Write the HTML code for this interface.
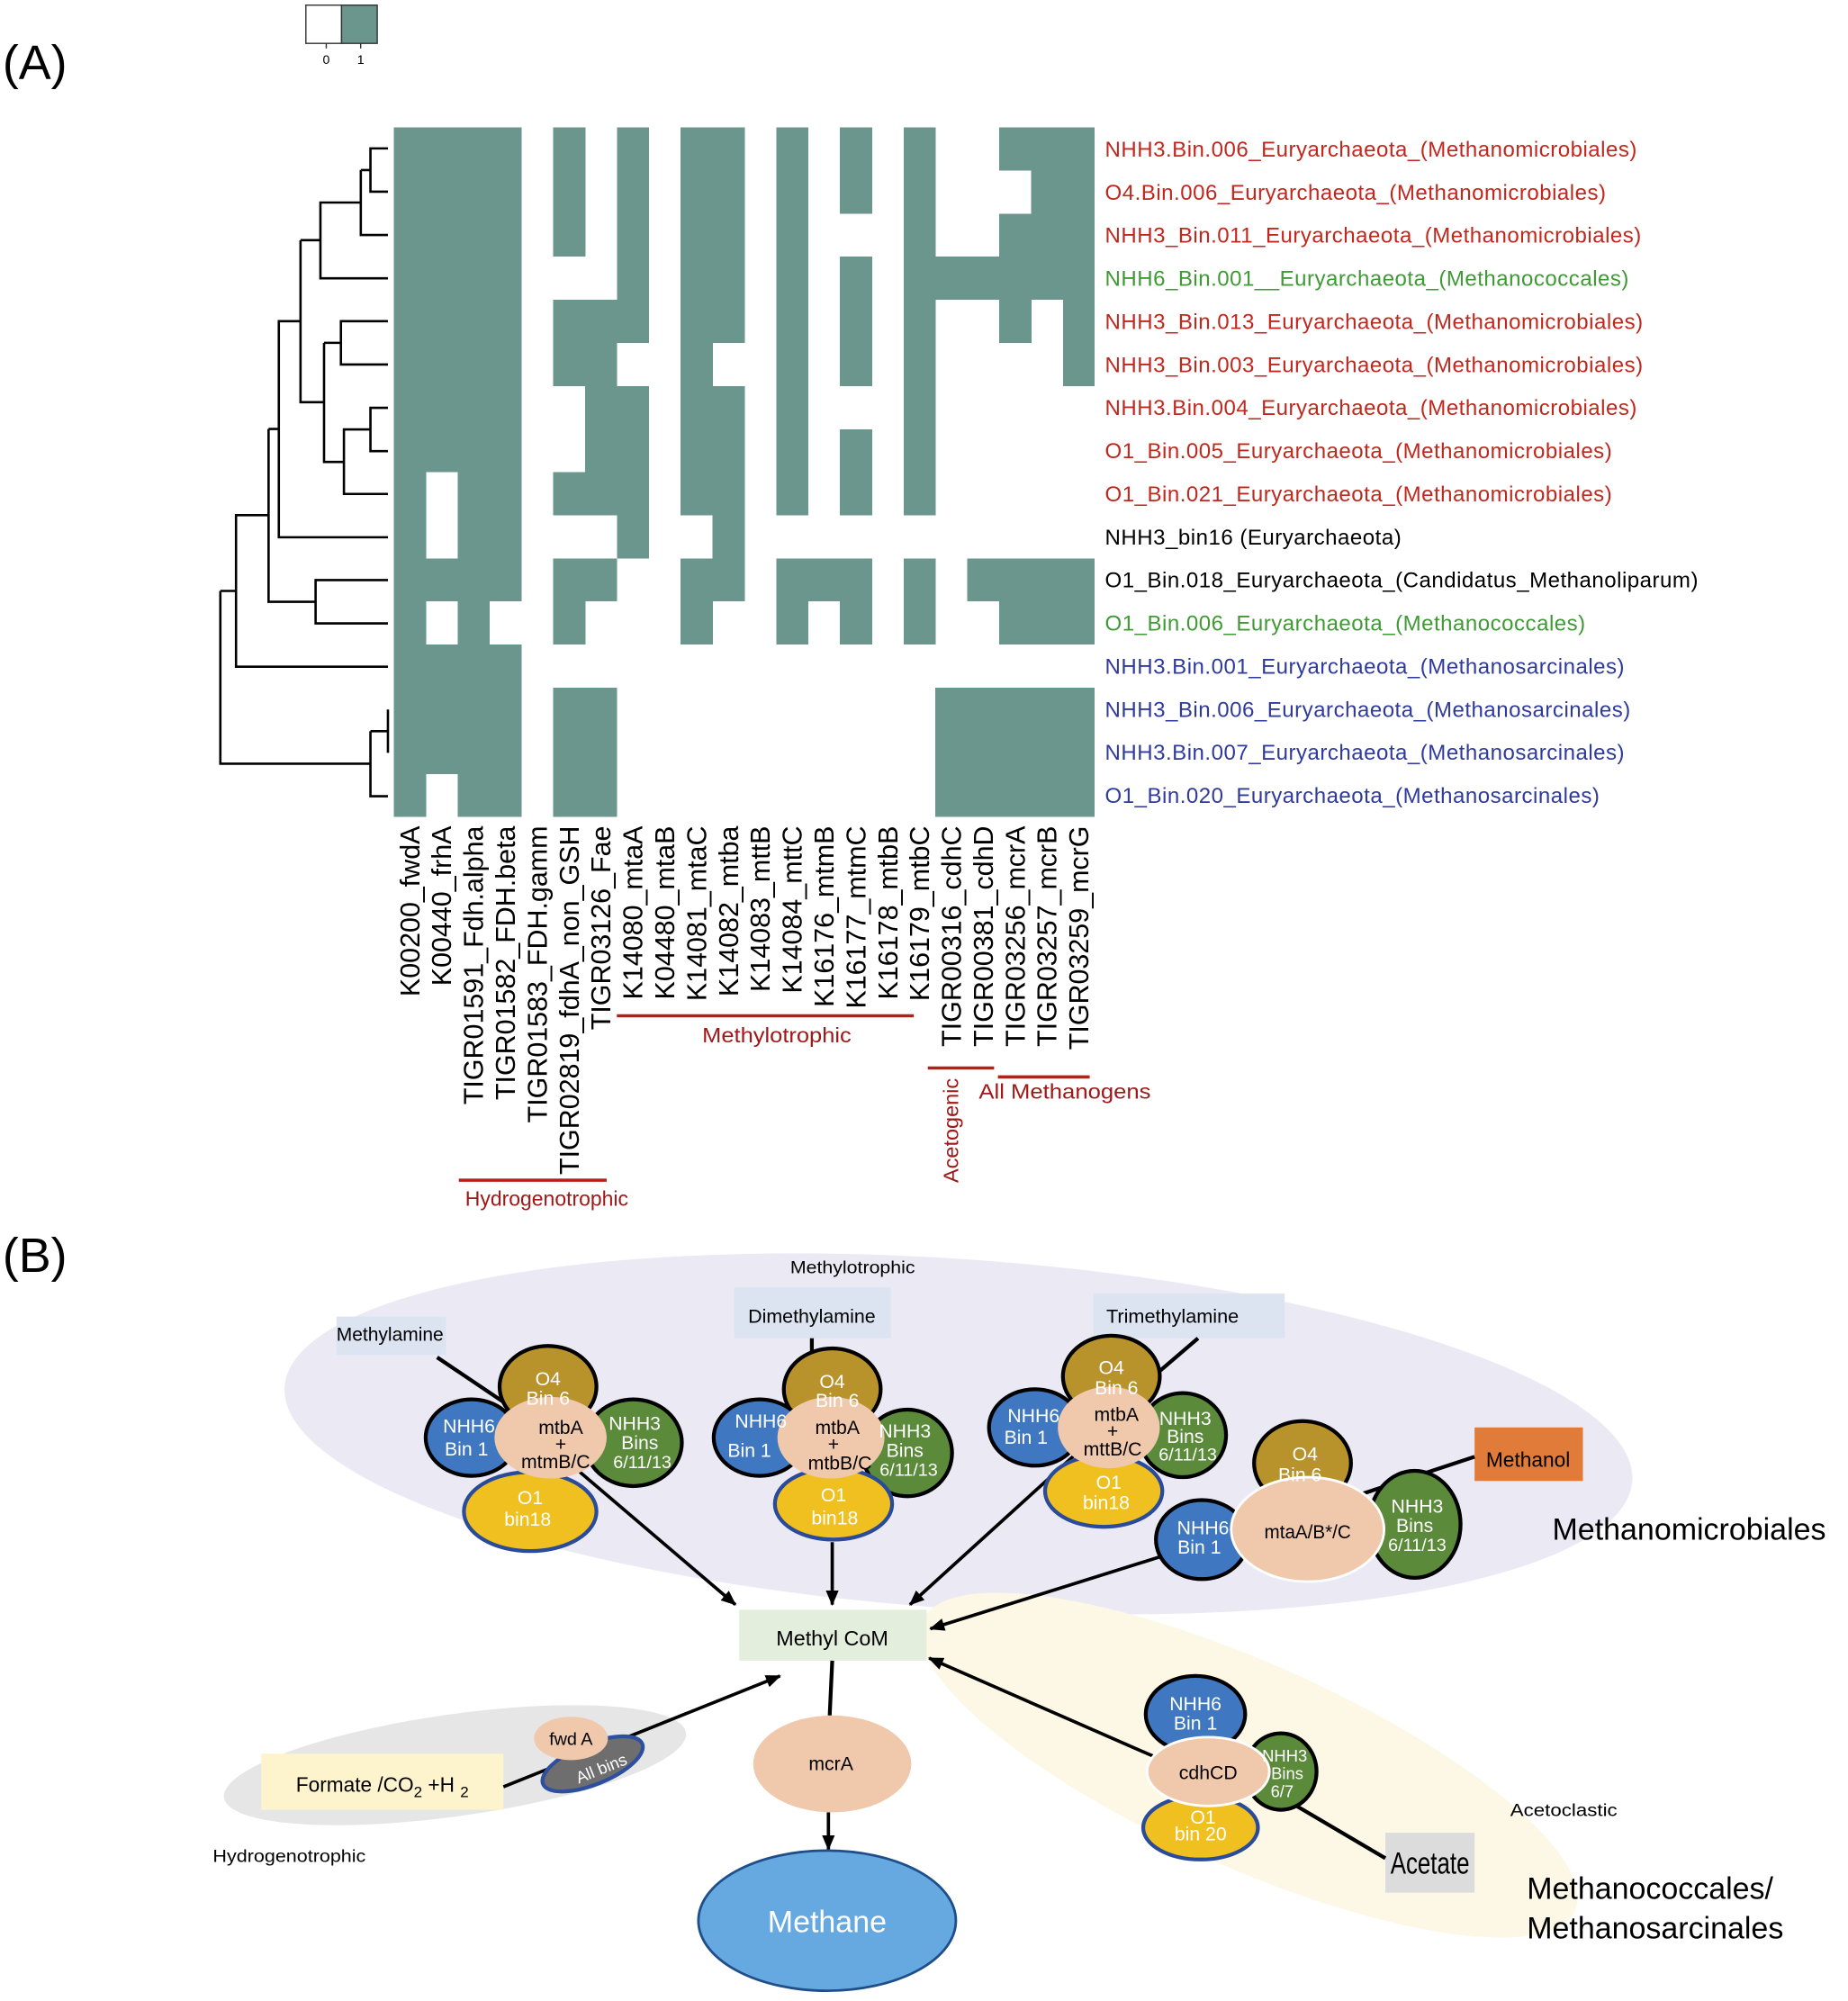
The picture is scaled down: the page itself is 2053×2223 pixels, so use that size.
<!DOCTYPE html>
<html><head><meta charset="utf-8"><style>
html,body{margin:0;padding:0;background:#fff;}
svg{display:block;}
text{font-family:"Liberation Sans",Arial,sans-serif;}
.n{font-family:"Liberation Sans Narrow","Liberation Sans",sans-serif;}
</style></head><body>
<svg width="2053" height="2223" viewBox="0 0 1450 1570" xmlns="http://www.w3.org/2000/svg">
<rect width="1450" height="1570" fill="#fff"/>
<rect x="240" y="4" width="28" height="30" fill="#fff" stroke="#333" stroke-width="1"/>
<rect x="268" y="4" width="28" height="30" fill="#6b968d" stroke="#333" stroke-width="1"/>
<line x1="256" y1="34" x2="256" y2="38" stroke="#333"/><line x1="283" y1="34" x2="283" y2="38" stroke="#333"/>
<text x="256" y="50" font-size="10" text-anchor="middle">0</text>
<text x="283" y="50" font-size="10" text-anchor="middle">1</text>
<text x="2" y="62" font-size="38">(A)</text>
<text x="2" y="998" font-size="38">(B)</text>

<g fill="#6b968d" shape-rendering="crispEdges">
<rect x="309" y="100" width="25.3" height="541"/>
<rect x="334" y="100" width="25.3" height="270.5"/><rect x="334" y="438.1" width="25.3" height="33.8"/><rect x="334" y="505.8" width="25.3" height="101.4"/>
<rect x="359" y="100" width="25.3" height="541"/>
<rect x="384" y="100" width="25.3" height="371.9"/><rect x="384" y="505.8" width="25.3" height="135.2"/>
<rect x="434" y="100" width="25.3" height="101.4"/><rect x="434" y="235.3" width="25.3" height="67.6"/><rect x="434" y="370.5" width="25.3" height="33.8"/><rect x="434" y="438.1" width="25.3" height="67.7"/><rect x="434" y="539.6" width="25.3" height="101.4"/>
<rect x="459" y="235.3" width="25.3" height="169"/><rect x="459" y="438.1" width="25.3" height="33.8"/><rect x="459" y="539.6" width="25.3" height="101.4"/>
<rect x="484" y="100" width="25.3" height="169.1"/><rect x="484" y="302.9" width="25.3" height="135.2"/>
<rect x="534" y="100" width="25.3" height="304.3"/><rect x="534" y="438.1" width="25.3" height="67.7"/>
<rect x="559" y="100" width="25.3" height="169.1"/><rect x="559" y="302.9" width="25.3" height="169"/>
<rect x="609" y="100" width="25.3" height="304.3"/><rect x="609" y="438.1" width="25.3" height="67.7"/>
<rect x="634" y="438.1" width="25.3" height="33.8"/>
<rect x="659" y="100" width="25.3" height="67.6"/><rect x="659" y="201.4" width="25.3" height="101.5"/><rect x="659" y="336.7" width="25.3" height="67.6"/><rect x="659" y="438.1" width="25.3" height="67.7"/>
<rect x="709" y="100" width="25.3" height="304.3"/><rect x="709" y="438.1" width="25.3" height="67.7"/>
<rect x="734" y="201.4" width="25.3" height="33.9"/><rect x="734" y="539.6" width="25.3" height="101.4"/>
<rect x="759" y="201.4" width="25.3" height="33.9"/><rect x="759" y="438.1" width="25.3" height="33.8"/><rect x="759" y="539.6" width="25.3" height="101.4"/>
<rect x="784" y="100" width="25.3" height="33.8"/><rect x="784" y="167.6" width="25.3" height="101.5"/><rect x="784" y="438.1" width="25.3" height="67.7"/><rect x="784" y="539.6" width="25.3" height="101.4"/>
<rect x="809" y="100" width="25.3" height="135.3"/><rect x="809" y="438.1" width="25.3" height="67.7"/><rect x="809" y="539.6" width="25.3" height="101.4"/>
<rect x="834" y="100" width="25" height="202.9"/><rect x="834" y="438.1" width="25" height="67.7"/><rect x="834" y="539.6" width="25" height="101.4"/>
</g>

<g transform="translate(141.2,70.6) scale(0.473,0.3694)" fill="none" stroke="#000" stroke-width="2.6">
<path vector-effect="non-scaling-stroke" d="M345 124H316V216H345 M316 170H300 M345 308H300V170 M300 239H233V400H345 M233 319H200 M345 491H267V583H345 M267 537H239 M345 675H316V767H345 M316 721H272V858H345 M272 790H239V537 M239 663H200V319 M200 491H164V950H345 M164 720H147 M345 1041H225V1133H345 M225 1087H147V720 M147 903H93V1225H345 M93 1064H67 M345 1316V1408 M345 1362H316 M316 1362V1500H345 M316 1431H67V1064"/>
</g>

<g font-size="17" letter-spacing="0.35">
<text x="867" y="122.8" fill="#c0281e">NHH3.Bin.006_Euryarchaeota_(Methanomicrobiales)</text>
<text x="867" y="156.6" fill="#c0281e">O4.Bin.006_Euryarchaeota_(Methanomicrobiales)</text>
<text x="867" y="190.4" fill="#c0281e">NHH3_Bin.011_Euryarchaeota_(Methanomicrobiales)</text>
<text x="867" y="224.2" fill="#3f9a35">NHH6_Bin.001__Euryarchaeota_(Methanococcales)</text>
<text x="867" y="258.1" fill="#c0281e">NHH3_Bin.013_Euryarchaeota_(Methanomicrobiales)</text>
<text x="867" y="291.9" fill="#c0281e">NHH3_Bin.003_Euryarchaeota_(Methanomicrobiales)</text>
<text x="867" y="325.7" fill="#c0281e">NHH3.Bin.004_Euryarchaeota_(Methanomicrobiales)</text>
<text x="867" y="359.5" fill="#c0281e">O1_Bin.005_Euryarchaeota_(Methanomicrobiales)</text>
<text x="867" y="393.3" fill="#c0281e">O1_Bin.021_Euryarchaeota_(Methanomicrobiales)</text>
<text x="867" y="427.1" fill="#000">NHH3_bin16 (Euryarchaeota)</text>
<text x="867" y="460.9" fill="#000">O1_Bin.018_Euryarchaeota_(Candidatus_Methanoliparum)</text>
<text x="867" y="494.7" fill="#3f9a35">O1_Bin.006_Euryarchaeota_(Methanococcales)</text>
<text x="867" y="528.6" fill="#2f3a9c">NHH3.Bin.001_Euryarchaeota_(Methanosarcinales)</text>
<text x="867" y="562.4" fill="#2f3a9c">NHH3_Bin.006_Euryarchaeota_(Methanosarcinales)</text>
<text x="867" y="596.2" fill="#2f3a9c">NHH3.Bin.007_Euryarchaeota_(Methanosarcinales)</text>
<text x="867" y="630" fill="#2f3a9c">O1_Bin.020_Euryarchaeota_(Methanosarcinales)</text>
</g>

<g font-size="21.5" text-anchor="end">
<text transform="translate(329,648) rotate(-90)">K00200_fwdA</text>
<text transform="translate(354,648) rotate(-90)">K00440_frhA</text>
<text transform="translate(379,648) rotate(-90)">TIGR01591_Fdh.alpha</text>
<text transform="translate(404,648) rotate(-90)">TIGR01582_FDH.beta</text>
<text transform="translate(429,648) rotate(-90)">TIGR01583_FDH.gamm</text>
<text transform="translate(454,648) rotate(-90)">TIGR02819_fdhA_non_GSH</text>
<text transform="translate(479,648) rotate(-90)">TIGR03126_Fae</text>
<text transform="translate(504,648) rotate(-90)">K14080_mtaA</text>
<text transform="translate(529,648) rotate(-90)">K04480_mtaB</text>
<text transform="translate(554,648) rotate(-90)">K14081_mtaC</text>
<text transform="translate(579,648) rotate(-90)">K14082_mtba</text>
<text transform="translate(604,648) rotate(-90)">K14083_mttB</text>
<text transform="translate(629,648) rotate(-90)">K14084_mttC</text>
<text transform="translate(654,648) rotate(-90)">K16176_mtmB</text>
<text transform="translate(679,648) rotate(-90)">K16177_mtmC</text>
<text transform="translate(704,648) rotate(-90)">K16178_mtbB</text>
<text transform="translate(729,648) rotate(-90)">K16179_mtbC</text>
<text transform="translate(754,648) rotate(-90)">TIGR00316_cdhC</text>
<text transform="translate(779,648) rotate(-90)">TIGR00381_cdhD</text>
<text transform="translate(804,648) rotate(-90)">TIGR03256_mcrA</text>
<text transform="translate(829,648) rotate(-90)">TIGR03257_mcrB</text>
<text transform="translate(854,648) rotate(-90)">TIGR03259_mcrG</text>
</g>

<g stroke="#b81c1c" stroke-width="2.5">
<line x1="484" y1="797" x2="717" y2="797"/>
<line x1="360" y1="926" x2="476" y2="926"/>
<line x1="728" y1="838" x2="780" y2="838"/>
<line x1="783" y1="845" x2="855" y2="845"/>
</g>
<g class="n" fill="#a01818" font-size="16">
<text class="n" x="551" y="818" textLength="117" lengthAdjust="spacingAndGlyphs">Methylotrophic</text>
<text class="n" x="365" y="946" textLength="128" lengthAdjust="spacingAndGlyphs">Hydrogenotrophic</text>
<text class="n" x="768" y="862" textLength="135" lengthAdjust="spacingAndGlyphs">All Methanogens</text>
<text class="n" transform="translate(752,928) rotate(-90)" textLength="82" lengthAdjust="spacingAndGlyphs">Acetogenic</text>
</g>

<ellipse cx="752" cy="1125" rx="530" ry="137" transform="rotate(4 752 1125)" fill="#ebe9f4"/>
<ellipse cx="980" cy="1385" rx="280" ry="80" transform="rotate(24 980 1385)" fill="#fdf7e6"/>
<ellipse cx="357" cy="1385" rx="183" ry="40" transform="rotate(-8 357 1385)" fill="#e6e6e6"/>

<text class="n" x="669" y="999" text-anchor="middle" font-size="14" textLength="98" lengthAdjust="spacingAndGlyphs">Methylotrophic</text>
<rect x="264" y="1033" width="86" height="30" fill="#dce4f2"/>
<rect x="576" y="1010" width="123" height="40" fill="#dce4f2"/>
<rect x="858" y="1015" width="150" height="35" fill="#dce4f2"/>
<rect x="1157" y="1120" width="85" height="42" fill="#e07b39"/>
<rect x="580" y="1263" width="147" height="40" fill="#e3efdc"/>
<rect x="1087" y="1438" width="70" height="47" fill="#dcdcdc"/>
<rect x="205" y="1376" width="190" height="44" fill="#fdf3cc"/>
<g font-size="15" class="n" text-anchor="middle">
<text class="n" x="306" y="1052" textLength="84" lengthAdjust="spacingAndGlyphs">Methylamine</text>
<text class="n" x="637" y="1038" textLength="100" lengthAdjust="spacingAndGlyphs">Dimethylamine</text>
<text class="n" x="920" y="1038" textLength="104" lengthAdjust="spacingAndGlyphs">Trimethylamine</text>
<text class="n" x="1199" y="1151" font-size="16" textLength="66" lengthAdjust="spacingAndGlyphs">Methanol</text>
<text class="n" x="653" y="1291" font-size="16" textLength="88" lengthAdjust="spacingAndGlyphs">Methyl  CoM</text>
<text class="n" x="1122" y="1470" font-size="24" textLength="62" lengthAdjust="spacingAndGlyphs">Acetate</text>
<text class="n" x="300" y="1406" font-size="16">Formate /CO<tspan font-size="12" dy="4">2</tspan><tspan dy="-4"> +H </tspan><tspan font-size="12" dy="4">2</tspan></text>
<text class="n" x="227" y="1461" font-size="14" textLength="120" lengthAdjust="spacingAndGlyphs">Hydrogenotrophic</text>
<text class="n" x="1227" y="1425" font-size="14" textLength="84" lengthAdjust="spacingAndGlyphs">Acetoclastic</text>
</g>
<text x="1218" y="1208" font-size="24">Methanomicrobiales</text>
<text x="1198" y="1490" font-size="24">Methanococcales/</text>
<text x="1198" y="1521" font-size="24">Methanosarcinales</text>

<g stroke="#000" stroke-width="3" fill="none">
<line x1="343" y1="1065" x2="395" y2="1100"/>
<line x1="637" y1="1050" x2="637" y2="1068"/>
<line x1="940" y1="1050" x2="905" y2="1080"/>
<line x1="1157" y1="1143" x2="1060" y2="1175"/>
<line x1="1087" y1="1458" x2="985" y2="1398"/>
<line x1="653" y1="1303" x2="651" y2="1346"/>
</g>
<defs><marker id="ah2" markerWidth="12" markerHeight="10" refX="11" refY="5" orient="auto" markerUnits="userSpaceOnUse"><path d="M0,0 L12,5 L0,10z" fill="#000"/></marker></defs>
<g stroke="#000" stroke-width="2.6" fill="none" marker-end="url(#ah2)">
<line x1="455" y1="1155" x2="577" y2="1259"/>
<line x1="653" y1="1210" x2="653" y2="1259"/>
<line x1="845" y1="1140" x2="714" y2="1259"/>
<line x1="915" y1="1220" x2="730" y2="1278"/>
<line x1="905" y1="1378" x2="729" y2="1301"/>
<line x1="395" y1="1402" x2="612" y2="1315"/>
<line x1="650" y1="1422" x2="650" y2="1451"/>
</g>

<g stroke="#000" stroke-width="3">
<ellipse cx="430" cy="1088" rx="38" ry="32" fill="#b8922a"/>
<ellipse cx="370" cy="1128" rx="36" ry="30" fill="#3f78c0"/>
<ellipse cx="497" cy="1132" rx="38" ry="34" fill="#5a8a3a"/>
<ellipse cx="416" cy="1186" rx="52" ry="31" fill="#f0c020" stroke="#2a4a9a"/>
<ellipse cx="432" cy="1128" rx="44" ry="32" fill="#f0c9ad" stroke="none"/>
<ellipse cx="653" cy="1090" rx="38" ry="32" fill="#b8922a"/>
<ellipse cx="596" cy="1128" rx="36" ry="30" fill="#3f78c0"/>
<ellipse cx="712" cy="1140" rx="35" ry="34" fill="#5a8a3a"/>
<ellipse cx="654" cy="1180" rx="46" ry="28" fill="#f0c020" stroke="#2a4a9a"/>
<ellipse cx="652" cy="1128" rx="42" ry="32" fill="#f0c9ad" stroke="none"/>
<ellipse cx="872" cy="1080" rx="38" ry="32" fill="#b8922a"/>
<ellipse cx="812" cy="1120" rx="36" ry="30" fill="#3f78c0"/>
<ellipse cx="928" cy="1126" rx="34" ry="33" fill="#5a8a3a"/>
<ellipse cx="866" cy="1170" rx="46" ry="28" fill="#f0c020" stroke="#2a4a9a"/>
<ellipse cx="870" cy="1120" rx="40" ry="32" fill="#f0c9ad" stroke="none"/>
<ellipse cx="1022" cy="1148" rx="38" ry="33" fill="#b8922a"/>
<ellipse cx="943" cy="1208" rx="36" ry="31" fill="#3f78c0"/>
<ellipse cx="1110" cy="1196" rx="36" ry="42" fill="#5a8a3a"/>
<ellipse cx="1026" cy="1200" rx="60" ry="41" fill="#f0c9ad" stroke="#fff" stroke-width="2"/>
<ellipse cx="938" cy="1345" rx="39" ry="30" fill="#3f78c0"/>
<ellipse cx="1005" cy="1390" rx="28" ry="30" fill="#5a8a3a"/>
<ellipse cx="942" cy="1434" rx="45" ry="25" fill="#f0c020" stroke="#2a4a9a"/>
<ellipse cx="948" cy="1390" rx="48" ry="27" fill="#f0c9ad" stroke="#fff" stroke-width="2"/>
<ellipse cx="465" cy="1384" rx="42" ry="16" transform="rotate(-22 465 1384)" fill="#6e6e6e" stroke="#2e4fa0"/>
<ellipse cx="448" cy="1364" rx="29" ry="17" fill="#f0c9ad" stroke="none"/>
<ellipse cx="653" cy="1384" rx="62" ry="38" fill="#f0c9ad" stroke="none"/>
<ellipse cx="649" cy="1507" rx="101" ry="55" fill="#66a9e0" stroke="#1f4f8a" stroke-width="2"/>
</g>

<g class="n" font-size="15" text-anchor="middle" fill="#fff">
<text class="n" x="430" y="1087">O4</text><text class="n" x="430" y="1102">Bin 6</text>
<text class="n" x="368" y="1124">NHH6</text><text class="n" x="366" y="1142">Bin 1</text>
<text class="n" x="498" y="1122">NHH3</text><text class="n" x="502" y="1137">Bins</text><text class="n" x="504" y="1152" font-size="14">6/11/13</text>
<text class="n" x="416" y="1180">O1</text><text class="n" x="414" y="1197">bin18</text>
<text class="n" x="653" y="1089">O4</text><text class="n" x="657" y="1104">Bin 6</text>
<text class="n" x="597" y="1120">NHH6</text><text class="n" x="588" y="1143">Bin 1</text>
<text class="n" x="710" y="1128">NHH3</text><text class="n" x="710" y="1143">Bins</text><text class="n" x="713" y="1158" font-size="14">6/11/13</text>
<text class="n" x="654" y="1178">O1</text><text class="n" x="655" y="1196">bin18</text>
<text class="n" x="872" y="1078">O4</text><text class="n" x="876" y="1094">Bin 6</text>
<text class="n" x="811" y="1116">NHH6</text><text class="n" x="805" y="1133">Bin 1</text>
<text class="n" x="930" y="1118">NHH3</text><text class="n" x="930" y="1132">Bins</text><text class="n" x="932" y="1146" font-size="14">6/11/13</text>
<text class="n" x="870" y="1168">O1</text><text class="n" x="868" y="1184">bin18</text>
<text class="n" x="1024" y="1146">O4</text><text class="n" x="1020" y="1162">Bin 6</text>
<text class="n" x="944" y="1204">NHH6</text><text class="n" x="941" y="1219">Bin 1</text>
<text class="n" x="1112" y="1187">NHH3</text><text class="n" x="1110" y="1202">Bins</text><text class="n" x="1112" y="1217" font-size="14">6/11/13</text>
<text class="n" x="938" y="1342">NHH6</text><text class="n" x="938" y="1357">Bin 1</text>
<text class="n" x="1008" y="1382" font-size="13">NHH3</text><text class="n" x="1010" y="1396" font-size="13">Bins</text><text class="n" x="1006" y="1410" font-size="13">6/7</text>
<text class="n" x="944" y="1431">O1</text><text class="n" x="942" y="1444">bin 20</text>
<text class="n" x="472" y="1392" font-size="13" transform="rotate(-22 472 1388)">All bins</text>
<text class="n" x="649" y="1516" font-size="24">Methane</text>
</g>
<g class="n" font-size="15" text-anchor="middle" fill="#000">
<text class="n" x="440" y="1125">mtbA</text><text class="n" x="440" y="1138">+</text><text class="n" x="436" y="1152">mtmB/C</text>
<text class="n" x="657" y="1125">mtbA</text><text class="n" x="654" y="1138">+</text><text class="n" x="659" y="1153">mtbB/C</text>
<text class="n" x="876" y="1115">mtbA</text><text class="n" x="873" y="1128">+</text><text class="n" x="873" y="1142">mttB/C</text>
<text class="n" x="1026" y="1207" textLength="68" lengthAdjust="spacingAndGlyphs">mtaA/B*/C</text>
<text class="n" x="948" y="1396">cdhCD</text>
<text class="n" x="652" y="1389">mcrA</text>
<text class="n" x="448" y="1369" font-size="14">fwd A</text>
</g>
</svg>
</body></html>
